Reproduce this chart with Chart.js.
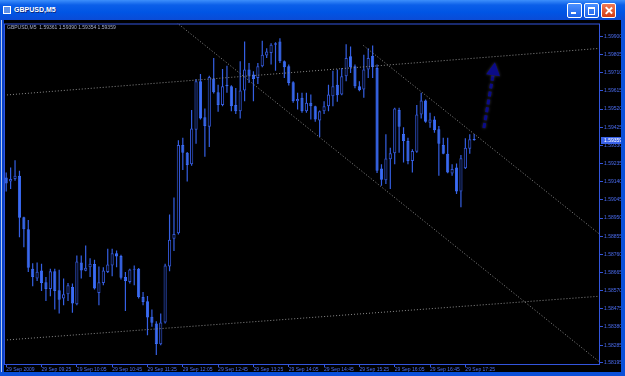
<!DOCTYPE html>
<html>
<head>
<meta charset="utf-8">
<script src="https://cdn.jsdelivr.net/npm/chart.js@4.4.1/dist/chart.umd.min.js"></script>
<style>
html,body{margin:0;padding:0;background:#0a4fd9;overflow:hidden}
#win{position:relative;width:625px;height:376px;background:#0a4fd9}
#titlebar{position:absolute;left:0;top:0;width:625px;height:20px;background:linear-gradient(#3d8ffb,#0b5fe9 25%,#0055e5 60%,#0a4bd6)}
#titlebar .ico{position:absolute;left:3px;top:6px;width:6px;height:6px;border:1px solid #fff;background:#5b8fe8}
#titlebar .ttl{position:absolute;left:14px;top:0;font:bold 7px 'Liberation Sans',sans-serif;line-height:20px;color:#fff;text-shadow:1px 1px 0 #0b2c86}
.btn{position:absolute;top:3px;width:13px;height:13px;border:1px solid #fff;border-radius:2px;background:linear-gradient(#4a90ff,#1e62e8)}
.btn.min{left:567px}.btn.max{left:584px}.btn.cls{left:601px;background:linear-gradient(#f07a55,#d23c14)}
.btn.min:after{content:'';position:absolute;left:3px;top:8px;width:5px;height:2px;background:#fff}
.btn.max:after{content:'';position:absolute;left:3px;top:3px;width:5px;height:5px;border:1px solid #fff;border-top-width:2px}
.btn.cls:before,.btn.cls:after{content:'';position:absolute;left:6px;top:2px;width:1.5px;height:9px;background:#fff;transform:rotate(45deg)}
.btn.cls:after{transform:rotate(-45deg)}
#client{position:absolute;left:4px;top:20px;width:617px;height:352px;background:#000;box-shadow:-2px 0 0 0 #0842c8,-3px 0 0 0 #b9c9ee}
</style>
</head>
<body>
<div id="win">
  <div id="titlebar"><span class="ico"></span><span class="ttl">GBPUSD,M5</span>
    <div class="btn min"></div><div class="btn max"></div><div class="btn cls"></div>
  </div>
  <div id="client"><canvas id="grafico" width="617" height="352"></canvas></div>
</div>
<script>
//Datos del grafico (velas M5 del 29 Sep 2009, desde las 08:45)
const symbol = 'GBPUSD,M5'
const opens = [
  1.59162,1.59141,1.59154,1.59171,1.58954,1.58891,1.58685,1.58633,1.58676,1.58614,
  1.58579,1.58671,1.58572,1.58529,1.58551,1.58589,1.58499,1.58718,1.58674,1.58693,
  1.58709,1.58558,1.58610,1.58667,1.58702,1.58766,1.58751,1.58641,1.58615,1.58680,
  1.58685,1.58537,1.58515,1.58433,1.58398,1.58289,1.58404,1.58697,1.58841,1.58870,
  1.59332,1.59292,1.59232,1.59412,1.59666,1.59478,1.59428,1.59680,1.59608,1.59541,
  1.59648,1.59640,1.59541,1.59509,1.59617,1.59727,1.59701,1.59683,1.59744,1.59801,
  1.59813,1.59857,1.59874,1.59770,1.59744,1.59660,1.59561,1.59579,1.59509,1.59553,
  1.59535,1.59461,1.59509,1.59535,1.59587,1.59648,1.59596,1.59692,1.59796,1.59744,
  1.59640,1.59622,1.59727,1.59799,1.59735,1.59209,1.59148,1.59258,1.59289,1.59516,
  1.59390,1.59353,1.59249,1.59297,1.59492,1.59565,1.59448,1.59466,1.59414,1.59332,
  1.59287,1.59183,1.59214,1.59089,1.59211,1.59313,1.59361
]
const highs = [
  1.59188,1.59214,1.59253,1.59197,1.58957,1.58940,1.58714,1.58718,1.58711,1.58641,
  1.58685,1.58685,1.58680,1.58633,1.58610,1.58607,1.58754,1.58754,1.58806,1.58740,
  1.58732,1.58697,1.58693,1.58789,1.58789,1.58780,1.58758,1.58667,1.58685,1.58702,
  1.58688,1.58563,1.58542,1.58471,1.58410,1.58450,1.58711,1.58968,1.59058,1.59357,
  1.59370,1.59296,1.59515,1.59678,1.59704,1.59523,1.59695,1.59787,1.59648,1.59730,
  1.59747,1.59645,1.59631,1.59770,1.59874,1.59761,1.59718,1.59761,1.59878,1.59839,
  1.59865,1.59870,1.59891,1.59775,1.59753,1.59666,1.59605,1.59605,1.59605,1.59596,
  1.59538,1.59513,1.59561,1.59648,1.59721,1.59727,1.59735,1.59860,1.59848,1.59753,
  1.59666,1.59805,1.59839,1.59853,1.59753,1.59232,1.59388,1.59318,1.59527,1.59527,
  1.59425,1.59370,1.59310,1.59541,1.59605,1.59570,1.59501,1.59483,1.59431,1.59370,
  1.59370,1.59232,1.59235,1.59280,1.59367,1.59388,1.59390
]
const lows = [
  1.59089,1.59102,1.59145,1.58850,1.58797,1.58667,1.58593,1.58620,1.58568,1.58516,
  1.58541,1.58471,1.58450,1.58494,1.58516,1.58454,1.58494,1.58633,1.58672,1.58641,
  1.58576,1.58494,1.58598,1.58662,1.58645,1.58693,1.58628,1.58464,1.58607,1.58598,
  1.58529,1.58494,1.58337,1.58381,1.58233,1.58285,1.58398,1.58672,1.58777,1.58864,
  1.59201,1.59141,1.59223,1.59339,1.59466,1.59271,1.59322,1.59602,1.59506,1.59535,
  1.59605,1.59509,1.59495,1.59471,1.59561,1.59657,1.59561,1.59652,1.59739,1.59787,
  1.59753,1.59721,1.59761,1.59683,1.59643,1.59553,1.59518,1.59501,1.59501,1.59466,
  1.59454,1.59374,1.59495,1.59509,1.59535,1.59558,1.59593,1.59666,1.59709,1.59629,
  1.59614,1.59579,1.59683,1.59683,1.59186,1.59119,1.59128,1.59102,1.59232,1.59292,
  1.59240,1.59232,1.59188,1.59292,1.59471,1.59448,1.59422,1.59396,1.59171,1.59284,
  1.59185,1.59171,1.59076,1.59006,1.59206,1.59287,1.59354
]
const closes = [
  1.59131,1.59154,1.59171,1.58951,1.58891,1.58690,1.58641,1.58669,1.58610,1.58579,
  1.58671,1.58568,1.58523,1.58551,1.58598,1.58503,1.58723,1.58676,1.58690,1.58711,
  1.58581,1.58614,1.58676,1.58707,1.58766,1.58749,1.58638,1.58620,1.58681,1.58685,
  1.58537,1.58511,1.58430,1.58402,1.58291,1.58404,1.58702,1.58837,1.58867,1.59332,
  1.59292,1.59228,1.59419,1.59666,1.59471,1.59431,1.59688,1.59608,1.59541,1.59640,
  1.59640,1.59535,1.59509,1.59617,1.59727,1.59695,1.59678,1.59744,1.59805,1.59822,
  1.59857,1.59865,1.59770,1.59739,1.59657,1.59561,1.59573,1.59509,1.59553,1.59535,
  1.59466,1.59509,1.59535,1.59596,1.59640,1.59593,1.59692,1.59787,1.59739,1.59640,
  1.59619,1.59727,1.59787,1.59740,1.59197,1.59150,1.59261,1.59289,1.59523,1.59428,
  1.59353,1.59249,1.59301,1.59492,1.59565,1.59454,1.59466,1.59409,1.59339,1.59287,
  1.59188,1.59206,1.59089,1.59263,1.59318,1.59362,1.59359
]
//Etiquetas del eje x (una cada 8 velas)
const tickLabels = ['29 Sep 2009','29 Sep 09:25','29 Sep 10:05','29 Sep 10:45','29 Sep 11:25','29 Sep 12:05','29 Sep 12:45',
  '29 Sep 13:25','29 Sep 14:05','29 Sep 14:45','29 Sep 15:25','29 Sep 16:05','29 Sep 16:45','29 Sep 17:25']
const tickStep = 8
const barSlots = 135 //velas + espacio libre a la derecha
const priceMin = 1.58181
const priceMax = 1.59968
const priceTicks = [1.59900,1.59805,1.59710,1.59615,1.59520,1.59425,1.59330,1.59235,1.59140,1.59045,
  1.58950,1.58855,1.58760,1.58665,1.58570,1.58475,1.58380,1.58285,1.58195]
//Lineas de tendencia [indice de vela, precio]
const channelLow = [[38.6,1.59973],[134.5,1.58195]]
const channelHigh = [[80.9,1.59853],[134.5,1.58864]]
const trendTop = [[-0.5,1.59593],[134.5,1.59838]]
const trendBottom = [[-0.5,1.58311],[134.5,1.58541]]
//Flecha
const arrowShaft = [[108.2,1.59421],[110.3,1.59702]]
const arrowTip = [110.7,1.59765]

//Colores
const bearColor = '#3b6cf4'
const bullLine = '#3457d6'
const wickColor = '#3560e4'
const axisColor = '#3355dd'
const labelColor = '#4a6cf0'
const dotColor = '#8a8a8a'
const arrowColor = '#0b0b88'

const toPoints = arr => arr.map(p => ({x: p[0], y: p[1]}))
const dotted = (data) => ({
  type: 'line', data: toPoints(data), borderColor: dotColor, borderWidth: 1,
  borderDash: [1, 2], pointRadius: 0, order: 1
})

const ARROW = 6
const glow = 'rgba(110,110,130,0.55)'
const extras = {
  id: 'extras',
  beforeDatasetDraw(chart, args) {
    if (args.index === ARROW) {
      chart.ctx.save()
      chart.ctx.shadowColor = glow
      chart.ctx.shadowBlur = 3
    }
  },
  afterDatasetDraw(chart, args) {
    if (args.index === ARROW) chart.ctx.restore()
  },
  afterDraw(chart) {
    const {ctx, chartArea: a, scales: {x, y}} = chart
    ctx.save()
    //marco
    ctx.strokeStyle = axisColor
    ctx.lineWidth = 1
    ctx.strokeRect(a.left + 0.5, a.top + 0.5, a.width - 1, a.height - 1)
    //cabecera
    const n = closes.length - 1
    ctx.font = '5px "Liberation Sans"'
    ctx.fillStyle = '#a9b0cc'
    ctx.textBaseline = 'top'
    ctx.fillText(`${symbol}  ${opens[n].toFixed(5)} ${highs[n].toFixed(5)} ${lows[n].toFixed(5)} ${closes[n].toFixed(5)}`, a.left + 3, a.top + 2)
    //punta de flecha
    const tx = x.getPixelForValue(arrowTip[0]), ty = y.getPixelForValue(arrowTip[1])
    const bx = x.getPixelForValue(arrowShaft[1][0]), by = y.getPixelForValue(arrowShaft[1][1])
    const ang = Math.atan2(ty - by, tx - bx)
    ctx.shadowColor = glow
    ctx.shadowBlur = 3
    ctx.fillStyle = arrowColor
    ctx.beginPath()
    ctx.moveTo(tx, ty)
    ctx.lineTo(tx - 13 * Math.cos(ang) + 7 * Math.sin(ang), ty - 13 * Math.sin(ang) - 7 * Math.cos(ang))
    ctx.lineTo(tx - 13 * Math.cos(ang) - 7 * Math.sin(ang), ty - 13 * Math.sin(ang) + 7 * Math.cos(ang))
    ctx.closePath()
    ctx.fill()
    ctx.shadowBlur = 0
    //etiqueta del precio actual
    const py = Math.round(y.getPixelForValue(closes[n]))
    ctx.fillStyle = '#3a62e8'
    ctx.fillRect(a.right + 1, py - 3, chart.width - a.right - 1, 7)
    ctx.fillStyle = '#ffffff'
    ctx.textBaseline = 'middle'
    ctx.fillText(closes[n].toFixed(5), a.right + 4, py + 0.5)
    ctx.restore()
  }
}

const ctx = document.getElementById('grafico').getContext('2d')
new Chart(ctx, {
  type: 'bar',
  data: {
    datasets: [
      { //mechas
        data: opens.map((o, i) => ({x: i, y: [lows[i], highs[i]]})),
        backgroundColor: wickColor, grouped: false, maxBarThickness: 1.2, order: 3
      },
      { //cuerpos
        data: opens.map((o, i) => ({x: i, y: [o, closes[i]]})),
        backgroundColor: opens.map((o, i) => closes[i] < o ? bearColor : '#000000'),
        borderColor: opens.map((o, i) => closes[i] < o ? bearColor : bullLine),
        borderWidth: 1, borderSkipped: false, minBarLength: 1,
        grouped: false, maxBarThickness: 3.2, order: 2
      },
      dotted(channelLow),
      dotted(channelHigh),
      dotted(trendTop),
      dotted(trendBottom),
      {
        type: 'line', data: toPoints(arrowShaft), borderColor: arrowColor, borderWidth: 3,
        borderDash: [5, 3], borderCapStyle: 'butt', pointRadius: 0, order: 0
      }
    ]
  },
  options: {
    responsive: false,
    animation: false,
    layout: { padding: { top: 2, left: 0, right: 0, bottom: 0 } },
    plugins: { legend: { display: false }, tooltip: { enabled: false } },
    scales: {
      x: {
        type: 'linear', min: -0.5, max: barSlots - 0.5, offset: false,
        afterBuildTicks: axis => { axis.ticks = tickLabels.map((t, k) => ({value: k * tickStep})) },
        afterFit: axis => { axis.height = 7 },
        ticks: {
          callback: (v, idx) => tickLabels[idx], align: 'start', autoSkip: false,
          maxRotation: 0, padding: 0, color: labelColor,
          font: { family: 'Liberation Sans', size: 5, lineHeight: 1 }
        },
        grid: { drawOnChartArea: false, offset: false, tickLength: 2, color: axisColor },
        border: { display: false }
      },
      y: {
        position: 'right', min: priceMin, max: priceMax,
        afterBuildTicks: axis => { axis.ticks = priceTicks.map(v => ({value: v})) },
        afterFit: axis => { axis.width = 21 },
        ticks: {
          callback: v => v.toFixed(5), padding: 1, color: labelColor,
          font: { family: 'Liberation Sans', size: 5, lineHeight: 1 }
        },
        grid: { drawOnChartArea: false, tickLength: 3, color: axisColor },
        border: { display: false }
      }
    }
  },
  plugins: [extras]
})
</script>
</body>
</html>
